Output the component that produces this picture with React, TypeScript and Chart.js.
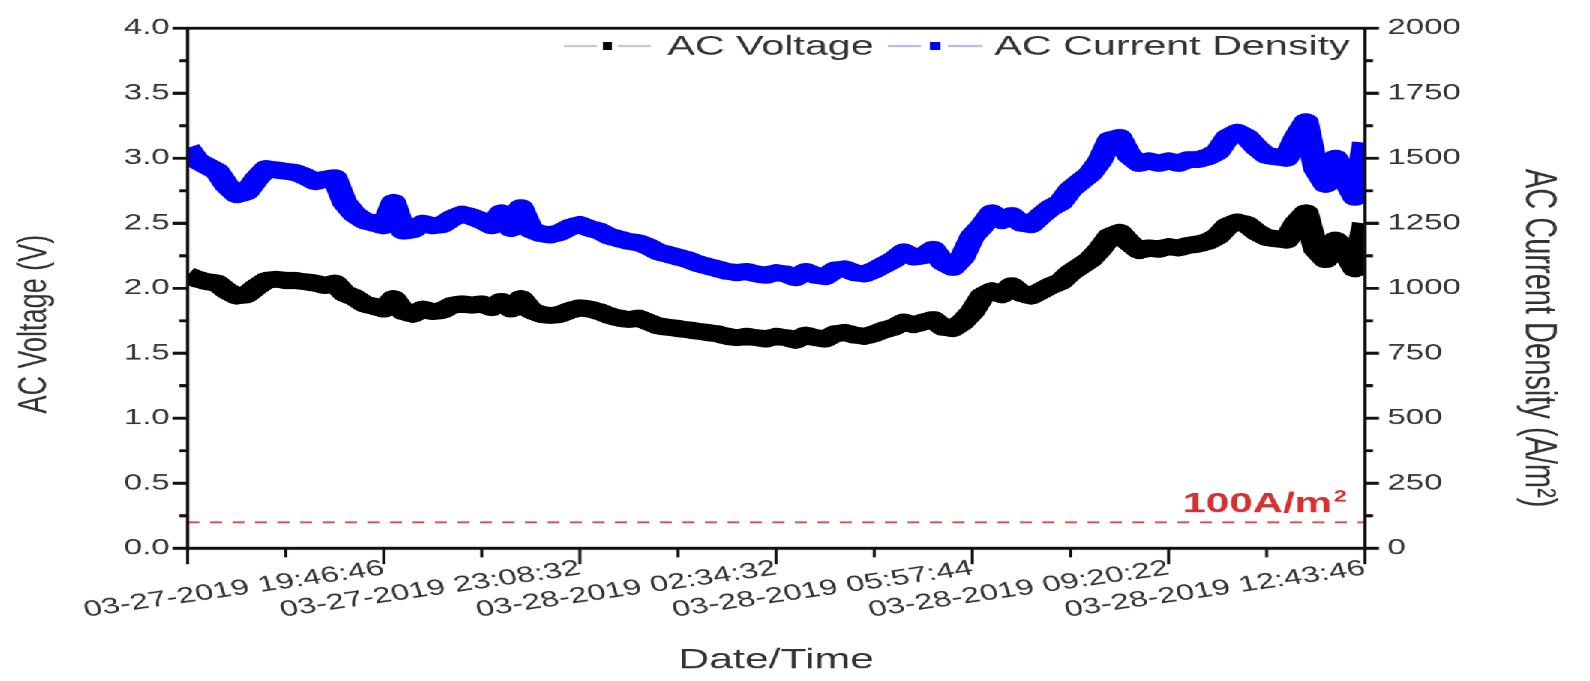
import React, { useEffect, useRef } from 'react';
import { Chart, registerables } from 'chart.js';

Chart.register(...registerables);

// ---- data ----
const X_TICK_LABELS = [
  '',
  '03-27-2019 19:46:46',
  '03-27-2019 23:08:32',
  '03-28-2019 02:34:32',
  '03-28-2019 05:57:44',
  '03-28-2019 09:20:22',
  '03-28-2019 12:43:46',
];

// AC voltage (V), sampled evenly over the record (121 samples)
const VOLTAGE = [
  2.10, 2.07, 2.05, 2.04, 1.98, 1.94, 1.95, 2.01, 2.06, 2.07,
  2.06, 2.06, 2.05, 2.04, 2.02, 2.04, 1.96, 1.93, 1.88, 1.86,
  1.84, 1.92, 1.82, 1.80, 1.84, 1.82, 1.83, 1.87, 1.88, 1.87,
  1.88, 1.85, 1.90, 1.84, 1.92, 1.83, 1.80, 1.79, 1.80, 1.83,
  1.85, 1.84, 1.82, 1.79, 1.77, 1.76, 1.77, 1.74, 1.71, 1.70,
  1.69, 1.68, 1.67, 1.66, 1.65, 1.63, 1.62, 1.63, 1.62, 1.61,
  1.63, 1.62, 1.60, 1.64, 1.62, 1.61, 1.65, 1.66, 1.64, 1.63,
  1.65, 1.68, 1.70, 1.74, 1.72, 1.74, 1.76, 1.70, 1.69, 1.74,
  1.82, 1.94, 1.98, 1.95, 2.02, 1.96, 1.94, 1.98, 2.02, 2.05,
  2.12, 2.17, 2.22, 2.30, 2.40, 2.43, 2.35, 2.29, 2.31, 2.30,
  2.32, 2.31, 2.33, 2.34, 2.36, 2.40, 2.48, 2.51, 2.49, 2.43,
  2.39, 2.38, 2.37, 2.50, 2.58, 2.30, 2.22, 2.37, 2.28, 2.15,
  2.50,
];

// AC current density (A/m²), same samples
const CURRENT_DENSITY = [
  1540, 1490, 1470, 1450, 1395, 1360, 1370, 1420, 1460, 1455,
  1450, 1445, 1430, 1410, 1420, 1425, 1330, 1285, 1260, 1250,
  1240, 1330, 1220, 1225, 1250, 1240, 1245, 1270, 1285, 1275,
  1260, 1240, 1290, 1230, 1310, 1225, 1210, 1205, 1215, 1235,
  1245, 1230, 1220, 1200, 1190, 1180, 1175, 1160, 1140, 1130,
  1120, 1110, 1095, 1085, 1075, 1065, 1060, 1065, 1055, 1050,
  1060, 1055, 1040, 1065, 1050, 1045, 1070, 1075, 1060, 1055,
  1070, 1090, 1110, 1140, 1120, 1125, 1150, 1100, 1080, 1120,
  1200, 1240, 1290, 1260, 1280, 1250, 1245, 1280, 1310, 1330,
  1380, 1410, 1440, 1490, 1570, 1580, 1510, 1480, 1490, 1480,
  1490, 1480, 1495, 1495, 1505, 1525, 1580, 1600, 1580, 1540,
  1510, 1505, 1500, 1580, 1640, 1460, 1400, 1500, 1420, 1350,
  1560,
];

const THRESHOLD_X = [0, 120];
const THRESHOLD_Y = [100, 100];

const Y_LEFT_TICKS = [0, 0.5, 1.0, 1.5, 2.0, 2.5, 3.0, 3.5, 4.0];
const Y_RIGHT_TICKS = [0, 250, 500, 750, 1000, 1250, 1500, 1750, 2000];

// ---- layout (logical canvas, stretched horizontally by CSS) ----
const STRETCH = 1.5;
const W = 1060;
const H = 681;
const FONT = '"Liberation Sans", Arial, sans-serif';
const TEXT = '#333333';

const overlayPlugin = {
  id: 'overlay',
  afterDraw(chart: any) {
    const ctx = chart.ctx as CanvasRenderingContext2D;
    const { left, right, top, bottom } = chart.chartArea;
    const yS = chart.scales.y;
    const y1S = chart.scales.y1;
    const xS = chart.scales.x;
    ctx.save();
    ctx.strokeStyle = '#111111';
    ctx.lineCap = 'butt';

    // frame
    ctx.lineWidth = 3;
    ctx.beginPath();
    ctx.moveTo(left - 1, top);
    ctx.lineTo(right + 1, top);
    ctx.moveTo(left - 1, bottom);
    ctx.lineTo(right + 1, bottom);
    ctx.stroke();
    ctx.lineWidth = 2.2;
    ctx.beginPath();
    ctx.moveTo(left, top);
    ctx.lineTo(left, bottom + 1.5);
    ctx.moveTo(right, top);
    ctx.lineTo(right, bottom + 1.5);
    ctx.stroke();

    // left ticks
    ctx.lineWidth = 3;
    ctx.beginPath();
    for (let v = 0; v <= 4.0001; v += 0.25) {
      const py = yS.getPixelForValue(v);
      const major = Math.abs(v * 2 - Math.round(v * 2)) < 1e-6;
      ctx.moveTo(left, py);
      ctx.lineTo(left - (major ? 10 : 5.5), py);
    }
    // right ticks
    for (let v = 0; v <= 2000; v += 125) {
      const py = y1S.getPixelForValue(v);
      const major = v % 250 === 0;
      ctx.moveTo(right, py);
      ctx.lineTo(right + (major ? 9.5 : 5.5), py);
    }
    ctx.stroke();
    // bottom ticks
    ctx.lineWidth = 2;
    ctx.beginPath();
    for (let v = 0; v <= 120; v += 10) {
      const px = xS.getPixelForValue(v);
      const major = v % 20 === 0;
      ctx.moveTo(px, bottom);
      ctx.lineTo(px, bottom + (major ? 16 : 9));
    }
    ctx.stroke();

    // threshold label
    const ty = y1S.getPixelForValue(100) - 10;
    ctx.fillStyle = '#d63030';
    ctx.textBaseline = 'alphabetic';
    ctx.textAlign = 'right';
    ctx.font = `bold 16px ${FONT}`;
    const supW = ctx.measureText('2').width;
    ctx.fillText('2', right - 12, ty - 11);
    ctx.font = `bold 28px ${FONT}`;
    ctx.fillText('100A/m', right - 12 - supW - 1, ty);

    // legend
    const ly = 46;
    ctx.lineWidth = 2;
    ctx.strokeStyle = '#c4c4c4';
    ctx.beginPath();
    ctx.moveTo(376, ly); ctx.lineTo(398, ly);
    ctx.moveTo(412, ly); ctx.lineTo(434, ly);
    ctx.stroke();
    ctx.fillStyle = '#000000';
    ctx.fillRect(402, ly - 4, 6, 8);
    ctx.strokeStyle = '#b4b4e0';
    ctx.beginPath();
    ctx.moveTo(592, ly); ctx.lineTo(614, ly);
    ctx.moveTo(632, ly); ctx.lineTo(655, ly);
    ctx.stroke();
    ctx.fillStyle = '#0000ff';
    ctx.fillRect(620, ly - 4, 7, 8);
    ctx.fillStyle = TEXT;
    ctx.font = `27.5px ${FONT}`;
    ctx.textAlign = 'left';
    ctx.textBaseline = 'middle';
    ctx.fillText('AC Voltage', 445, ly + 1);
    ctx.fillText('AC Current Density', 663, ly + 1);

    // axis titles
    ctx.fillStyle = TEXT;
    ctx.textAlign = 'center';
    ctx.textBaseline = 'middle';
    ctx.font = `28.5px ${FONT}`;
    ctx.fillText('Date/Time', (left + right) / 2, 660);

    ctx.font = `27px ${FONT}`;
    ctx.save();
    ctx.translate(23, 324);
    ctx.rotate(-Math.PI / 2);
    ctx.fillText('AC Voltage (V)', 0, 0);
    ctx.restore();

    ctx.font = `29px ${FONT}`;
    ctx.save();
    ctx.translate(1025, 338);
    ctx.rotate(Math.PI / 2);
    ctx.fillText('AC Current Density (A/m²)', 0, 0);
    ctx.restore();

    ctx.restore();
  },
};

export default function App() {
  const canvasRef = useRef<HTMLCanvasElement | null>(null);

  useEffect(() => {
    document.body.style.margin = '0';
    document.body.style.overflow = 'hidden';
    const canvas = canvasRef.current;
    if (!canvas) return;

    const chart = new Chart(canvas, {
      type: 'line',
      data: {
        datasets: [
          {
            label: 'threshold',
            data: THRESHOLD_X.map((x, i) => ({ x, y: THRESHOLD_Y[i] })),
            yAxisID: 'y1',
            borderColor: '#e05050',
            borderWidth: 2,
            borderDash: [8, 7],
            pointRadius: 0,
          },
          {
            label: 'AC Current Density',
            data: CURRENT_DENSITY.map((y, i) => ({ x: i, y })),
            yAxisID: 'y1',
            borderColor: '#0000ff',
            backgroundColor: '#0000ff',
            borderWidth: 17,
            borderJoinStyle: 'round',
            borderCapStyle: 'butt',
            tension: 0,
            pointRadius: 0,
          },
          {
            label: 'AC Voltage',
            data: VOLTAGE.map((y, i) => ({ x: i, y })),
            yAxisID: 'y',
            borderColor: '#000000',
            backgroundColor: '#000000',
            borderWidth: 17,
            borderJoinStyle: 'round',
            borderCapStyle: 'butt',
            tension: 0,
            pointRadius: 0,
          },
        ],
      },
      options: {
        responsive: false,
        animation: false,
        devicePixelRatio: STRETCH,
        layout: { padding: { top: 22, left: 0, right: 0, bottom: 0 } },
        plugins: {
          legend: { display: false },
          tooltip: { enabled: false },
        },
        events: [],
        scales: {
          x: {
            type: 'linear',
            position: 'bottom',
            min: 0,
            max: 120,
            afterFit: (s: any) => { s.height = H - 548; },
            grid: { display: false, drawTicks: false },
            border: { display: false },
            ticks: {
              stepSize: 20,
              autoSkip: false,
              minRotation: 12,
              maxRotation: 12,
              padding: 7,
              color: TEXT,
              font: { family: FONT, size: 22 },
              callback: (v: any) => X_TICK_LABELS[Math.round(Number(v) / 20)] ?? '',
            },
          },
          y: {
            type: 'linear',
            position: 'left',
            min: 0,
            max: 4,
            afterFit: (s: any) => { s.width = 125; },
            afterBuildTicks: (s: any) => { s.ticks = Y_LEFT_TICKS.map((value) => ({ value })); },
            grid: { display: false, drawTicks: false },
            border: { display: false },
            ticks: {
              padding: 12,
              color: TEXT,
              font: { family: FONT, size: 22 },
              callback: (v: any) => Number(v).toFixed(1),
            },
          },
          y1: {
            type: 'linear',
            position: 'right',
            min: 0,
            max: 2000,
            afterFit: (s: any) => { s.width = W - 910; },
            afterBuildTicks: (s: any) => { s.ticks = Y_RIGHT_TICKS.map((value) => ({ value })); },
            grid: { display: false, drawTicks: false },
            border: { display: false },
            ticks: {
              padding: 15,
              color: TEXT,
              font: { family: FONT, size: 22 },
              callback: (v: any) => String(v),
            },
          },
        },
      },
      plugins: [overlayPlugin],
    } as any);

    return () => chart.destroy();
  }, []);

  return (
    <div
      style={{
        position: 'absolute',
        left: 0,
        top: 0,
        width: W,
        height: H,
        transform: `scaleX(${STRETCH})`,
        transformOrigin: '0 0',
        background: '#ffffff',
      }}
    >
      <canvas ref={canvasRef} width={W} height={H} style={{ width: `${W}px`, height: `${H}px`, display: 'block' }} />
    </div>
  );
}
